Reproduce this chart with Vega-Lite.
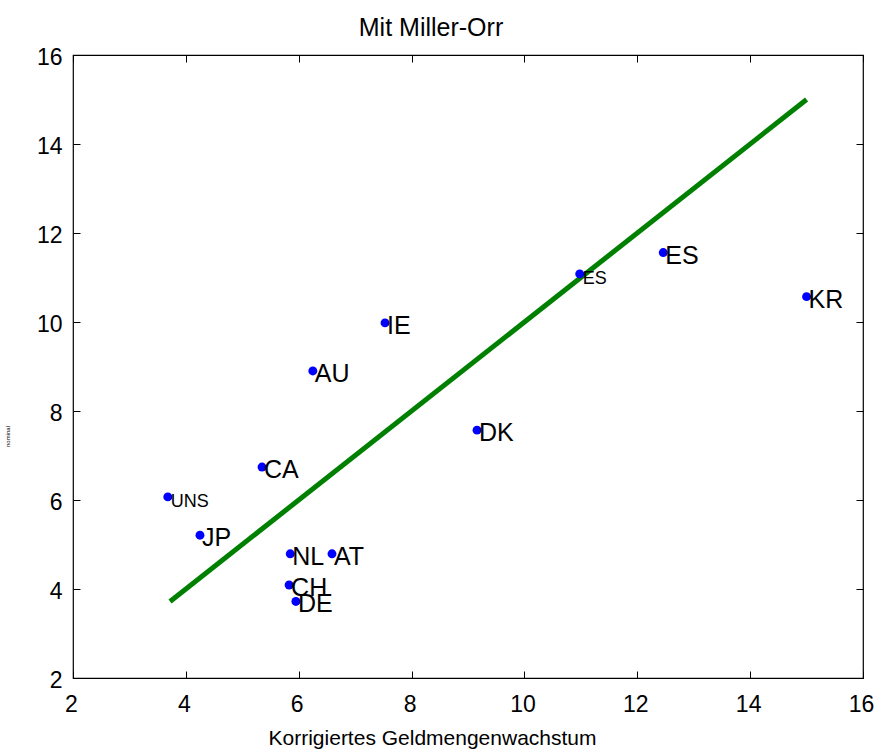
{
  "$schema": "https://vega.github.io/schema/vega-lite/v6.json",
  "autosize": "none",
  "width": 790,
  "height": 623,
  "padding": {"left": 73, "top": 55, "right": 17, "bottom": 76},
  "background": "white",
  "config": {
    "font": "Liberation Sans",
    "view": {"stroke": "black", "strokeWidth": 1.2},
    "axis": {"grid": false, "domain": false, "tickColor": "black", "tickSize": -7, "labelFlush": false, "labelFont": "Liberation Sans", "labelFontSize": 23, "labelColor": "black", "titleFont": "Liberation Sans", "titleFontWeight": "normal", "titleColor": "black"}
  },
  "title": {"text": "Mit Miller-Orr", "fontSize": 25, "fontWeight": "normal", "font": "Liberation Sans", "color": "black", "dx": -37, "offset": 5},
  "datasets": {
    "pts": [
      {"label": "UNS", "x": 3.68, "y": 6.07},
      {"label": "JP", "x": 4.25, "y": 5.21},
      {"label": "CA", "x": 5.35, "y": 6.74},
      {"label": "AU", "x": 6.25, "y": 8.9},
      {"label": "IE", "x": 7.53, "y": 9.98},
      {"label": "DK", "x": 9.16, "y": 7.57},
      {"label": "ES", "x": 10.98, "y": 11.08},
      {"label": "ES", "x": 12.46, "y": 11.56},
      {"label": "KR", "x": 15.0, "y": 10.57},
      {"label": "NL", "x": 5.85, "y": 4.79},
      {"label": "AT", "x": 6.59, "y": 4.79},
      {"label": "CH", "x": 5.83, "y": 4.09},
      {"label": "DE", "x": 5.95, "y": 3.72}
    ],
    "fit": [
      {"x": 3.72, "y": 3.72},
      {"x": 15.0, "y": 15.0}
    ]
  },
  "layer": [
    {
      "data": {"name": "fit"},
      "mark": {"type": "line", "color": "#008000", "strokeWidth": 5},
      "encoding": {
        "x": {"field": "x", "type": "quantitative", "scale": {"domain": [2, 16], "nice": false, "zero": false},
              "axis": {"orient": "bottom", "values": [2,4,6,8,10,12,14,16], "title": "Korrigiertes Geldmengenwachstum", "titleFontSize": 21, "titleX": 359, "titlePadding": 11, "labelPadding": 22, "labelOffset": -2}},
        "y": {"field": "y", "type": "quantitative", "scale": {"domain": [2, 16], "nice": false, "zero": false},
              "axis": {"orient": "left", "values": [2,4,6,8,10,12,14,16], "title": "nominal", "titleFontSize": 6, "titleY": 381, "titlePadding": 26, "labelPadding": 18, "labelOffset": 2}}
      }
    },
    {
      "data": {"name": "pts"},
      "mark": {"type": "point", "filled": true, "color": "#0000ff", "opacity": 1, "size": 80},
      "encoding": {
        "x": {"field": "x", "type": "quantitative", "axis": {"orient": "top", "values": [2,4,6,8,10,12,14,16], "labels": false, "title": null}},
        "y": {"field": "y", "type": "quantitative", "axis": {"orient": "right", "values": [2,4,6,8,10,12,14,16], "labels": false, "title": null}}
      }
    },
    {
      "data": {"name": "pts"},
      "transform": [{"filter": "!(datum.label == 'UNS' || (datum.label == 'ES' && datum.x < 11.5))"}],
      "mark": {"type": "text", "align": "left", "baseline": "middle", "dx": 2, "dy": 3, "fontSize": 25, "color": "black"},
      "encoding": {
        "x": {"field": "x", "type": "quantitative", "axis": null},
        "y": {"field": "y", "type": "quantitative", "axis": null},
        "text": {"field": "label"}
      }
    },
    {
      "data": {"name": "pts"},
      "transform": [{"filter": "datum.label == 'UNS' || (datum.label == 'ES' && datum.x < 11.5)"}],
      "mark": {"type": "text", "align": "left", "baseline": "middle", "dx": 3, "dy": 5, "fontSize": 18, "color": "black"},
      "encoding": {
        "x": {"field": "x", "type": "quantitative", "axis": null},
        "y": {"field": "y", "type": "quantitative", "axis": null},
        "text": {"field": "label"}
      }
    }
  ],
  "resolve": {"axis": {"x": "independent", "y": "independent"}}
}
